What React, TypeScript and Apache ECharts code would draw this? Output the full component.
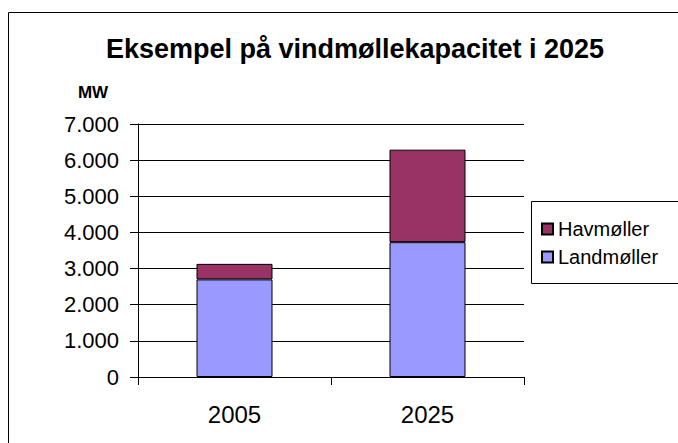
import React, { useEffect, useRef } from "react";
import * as echarts from "echarts";

const categories = ["2005", "2025"];
const landmoller = [2700, 3730];
const havmoller = [430, 2560];
const yTicks = [0, 1000, 2000, 3000, 4000, 5000, 6000, 7000];

const FONT = "Liberation Sans, Arial, sans-serif";

function fmt(v: number): string {
  return v === 0 ? "0" : String(v).replace(/\B(?=(\d{3})+(?!\d))/g, ".");
}

export default function App() {
  const ref = useRef<HTMLDivElement>(null);
  useEffect(() => {
    if (!ref.current) return;
    const chart = echarts.init(ref.current, null, { renderer: "svg" });
    chart.setOption({
      animation: false,
      backgroundColor: "#ffffff",
      textStyle: { fontFamily: FONT },
      title: {
        text: "Eksempel på vindmøllekapacitet i 2025",
        left: 350,
        textAlign: "center",
        top: 30,
        textStyle: { fontFamily: FONT, fontSize: 27, fontWeight: "bold", color: "#000" },
      },
      graphic: [
        {
          type: "rect",
          shape: { x: 8.5, y: 12.5, width: 700, height: 500 },
          style: { fill: "none", stroke: "#000", lineWidth: 1 },
          silent: true,
          z: -10,
        },
        {
          type: "rect",
          shape: { x: 531.5, y: 201.5, width: 200, height: 82 },
          style: { fill: "#fff", stroke: "#000", lineWidth: 1 },
          silent: true,
          z: 0,
        },
        {
          type: "text",
          x: 93,
          y: 92,
          style: {
            text: "MW",
            fontFamily: FONT,
            fontSize: 17,
            fontWeight: "bold",
            fill: "#000",
            textAlign: "center",
            textVerticalAlign: "middle",
          },
        },
      ],
      legend: {
        data: ["Havmøller", "Landmøller"],
        orient: "vertical",
        left: 536,
        top: 214,
        itemWidth: 11,
        itemHeight: 11,
        itemGap: 8,
        icon: "rect",
        z: 5,
        textStyle: { fontFamily: FONT, fontSize: 20, color: "#000", padding: [0, 0, 0, 0] },
      },
      grid: { left: 138, top: 124, width: 386, height: 253, containLabel: false },
      xAxis: {
        type: "category",
        data: categories,
        axisLine: { lineStyle: { color: "#000", width: 1 } },
        axisTick: { show: true, alignWithLabel: false, length: 8, lineStyle: { color: "#000" } },
        axisLabel: { fontFamily: FONT, fontSize: 24, color: "#000", margin: 25 },
        splitLine: { show: false },
      },
      yAxis: {
        type: "value",
        min: 0,
        max: 7000,
        interval: 1000,
        axisLine: { show: true, lineStyle: { color: "#000", width: 1 } },
        axisTick: { show: true, inside: false, length: 8, lineStyle: { color: "#000" } },
        axisLabel: {
          fontFamily: FONT,
          fontSize: 22,
          color: "#000",
          margin: 19,
          formatter: (v: number) => (yTicks.includes(v) ? fmt(v) : ""),
        },
        splitLine: { show: true, lineStyle: { color: "#000", width: 1 } },
      },
      series: [
        {
          name: "Landmøller",
          type: "bar",
          stack: "total",
          data: landmoller,
          barWidth: 76,
          itemStyle: { color: "#9999ff", borderColor: "#000", borderWidth: 1 },
        },
        {
          name: "Havmøller",
          type: "bar",
          stack: "total",
          data: havmoller,
          barWidth: 76,
          itemStyle: { color: "#993366", borderColor: "#000", borderWidth: 1 },
        },
      ],
    });
    return () => chart.dispose();
  }, []);
  return <div ref={ref} style={{ width: 678, height: 443, position: "absolute", left: 0, top: 0 }} />;
}
